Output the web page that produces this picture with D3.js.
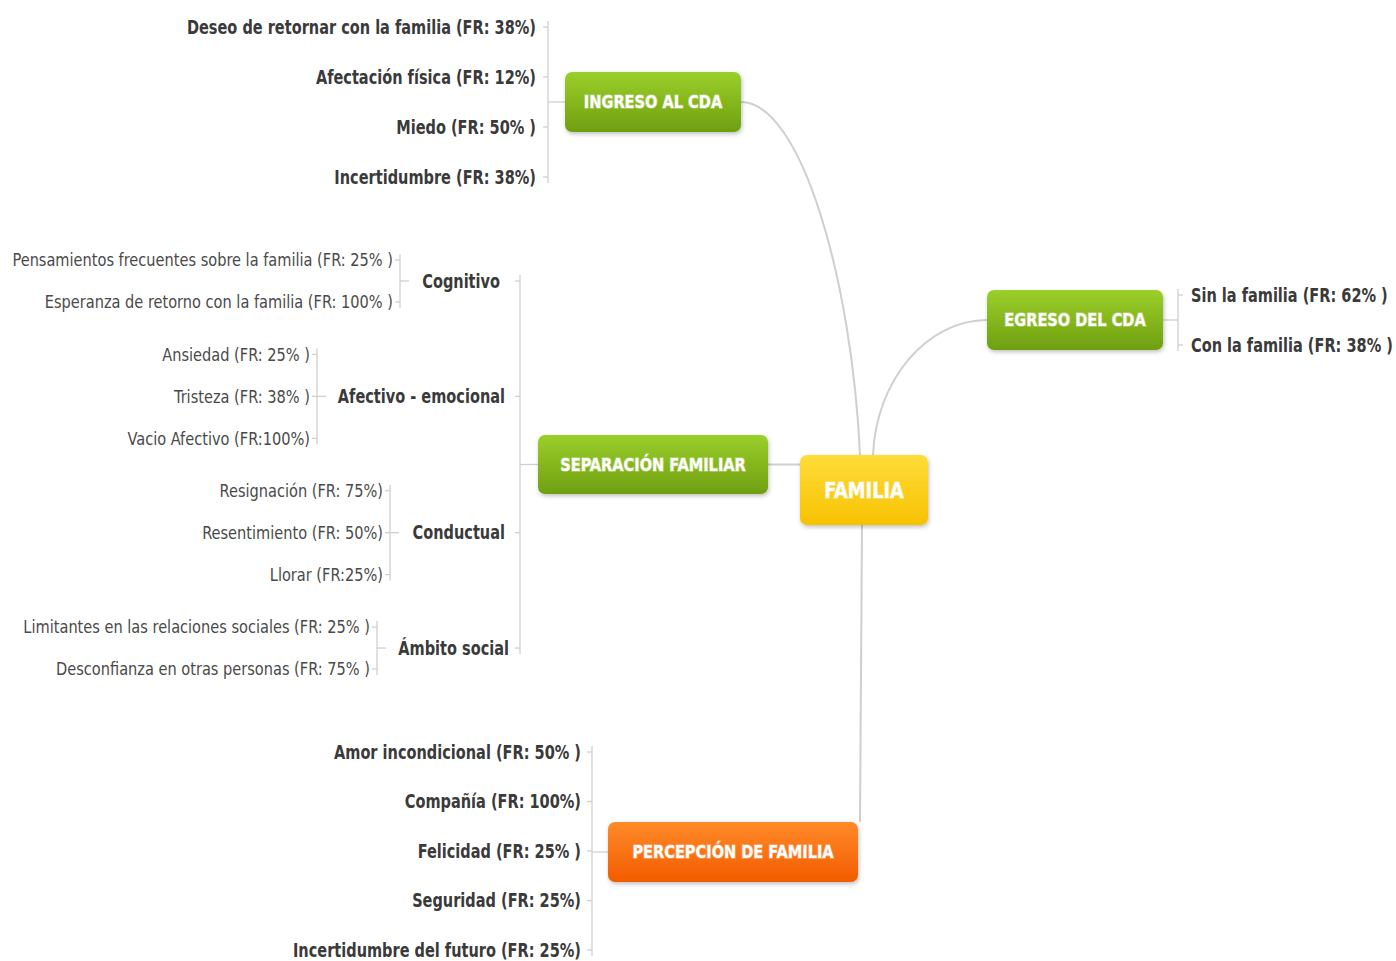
<!DOCTYPE html>
<html>
<head>
<meta charset="utf-8">
<script src="https://cdn.jsdelivr.net/npm/d3@7"></script>
<style>
  body { margin: 0; background: #fff; }
  text { font-family: "DejaVu Sans Condensed", "DejaVu Sans", sans-serif; }
</style>
</head>
<body>
<div id="map"></div>
<script>
// mind map data
var rootLabel = "FAMILIA";
var branchLabels = ["INGRESO AL CDA", "SEPARACIÓN FAMILIAR", "EGRESO DEL CDA", "PERCEPCIÓN DE FAMILIA"];

var ingresoItems = [
  "Deseo de retornar con la familia (FR: 38%)",
  "Afectación física (FR: 12%)",
  "Miedo (FR: 50% )",
  "Incertidumbre (FR: 38%)"
];

var separacionGroups = ["Cognitivo", "Afectivo - emocional", "Conductual", "Ámbito social"];
var cognitivoItems = [
  "Pensamientos frecuentes sobre la familia (FR: 25% )",
  "Esperanza de retorno con la familia (FR: 100% )"
];
var afectivoItems = ["Ansiedad (FR: 25% )", "Tristeza (FR: 38% )", "Vacio Afectivo (FR:100%)"];
var conductualItems = ["Resignación (FR: 75%)", "Resentimiento (FR: 50%)", "Llorar (FR:25%)"];
var socialItems = [
  "Limitantes en las relaciones sociales (FR: 25% )",
  "Desconfianza en otras personas (FR: 75% )"
];

var egresoItems = ["Sin la familia (FR: 62% )", "Con la familia (FR: 38% )"];

var percepcionItems = [
  "Amor incondicional (FR: 50% )",
  "Compañía (FR: 100%)",
  "Felicidad (FR: 25% )",
  "Seguridad (FR: 25%)",
  "Incertidumbre del futuro (FR: 25%)"
];

(function(){
  'use strict';

  var width = 1396, height = 961,
      lineColor = "#cfcfcf",
      textColor = "#3a3a3a",
      boldSx = 0.85,   // the picture uses a narrow face, squeeze the text
      thinSx = 0.9;

  var svg = d3.select("#map").append("svg")
      .attr("width", width)
      .attr("height", height);

  var defs = svg.append("defs");

  var palettes = {
    green:  ["#9bcf2a", "#6f9f10"],
    yellow: ["#ffdc3a", "#f7c200"],
    orange: ["#ff8a2a", "#f25c00"]
  };
  Object.keys(palettes).forEach(function(k){
    var g = defs.append("linearGradient").attr("id", "grad-" + k)
        .attr("x1", 0).attr("y1", 0).attr("x2", 0).attr("y2", 1);
    g.append("stop").attr("offset", "0%").attr("stop-color", palettes[k][0]);
    g.append("stop").attr("offset", "100%").attr("stop-color", palettes[k][1]);
  });

  var shadow = defs.append("filter").attr("id", "shadow")
      .attr("x", "-10%").attr("y", "-20%").attr("width", "130%").attr("height", "160%");
  shadow.append("feDropShadow").attr("dx", 1).attr("dy", 2)
      .attr("stdDeviation", 2).attr("flood-color", "#000").attr("flood-opacity", 0.25);

  // node boxes (layout only, labels come from the arrays above)
  var boxes = {};
  boxes[rootLabel]        = {x: 800, y: 455, w: 128, h: 70, fill: "yellow", size: 22};
  boxes[branchLabels[0]]  = {x: 565, y: 72,  w: 176, h: 60, fill: "green",  size: 18};
  boxes[branchLabels[1]]  = {x: 538, y: 435, w: 230, h: 59, fill: "green",  size: 18};
  boxes[branchLabels[2]]  = {x: 987, y: 290, w: 176, h: 60, fill: "green",  size: 18};
  boxes[branchLabels[3]]  = {x: 608, y: 822, w: 250, h: 60, fill: "orange", size: 18};

  var links = svg.append("g").attr("fill", "none")
      .attr("stroke", lineColor).attr("stroke-width", 2);

  // curved links from the root
  var r = boxes[rootLabel];
  function curve(x0, y0, c1x, c1y, c2x, c2y, x1, y1){
    var p = d3.path();
    p.moveTo(x0, y0);
    p.bezierCurveTo(c1x, c1y, c2x, c2y, x1, y1);
    return p.toString();
  }
  var bI = boxes[branchLabels[0]], bS = boxes[branchLabels[1]],
      bE = boxes[branchLabels[2]], bP = boxes[branchLabels[3]];
  links.append("path").attr("d",
    curve(bI.x + bI.w, bI.y + bI.h / 2, bI.x + bI.w + 60, bI.y + bI.h / 2, r.x + 52, 280, r.x + 60, r.y));
  links.append("path").attr("d",
    curve(bE.x, bE.y + bE.h / 2, bE.x - 60, bE.y + bE.h / 2, r.x + 76, 380, r.x + 73, r.y));
  links.append("path").attr("d",
    curve(bS.x + bS.w, bS.y + bS.h / 2, bS.x + bS.w + 10, bS.y + bS.h / 2, r.x - 10, bS.y + bS.h / 2, r.x, bS.y + bS.h / 2));
  links.append("path").attr("d",
    curve(r.x + 62, r.y + r.h, r.x + 62, r.y + r.h + 100, r.x + 60, bP.y - 100, r.x + 60, bP.y));

  var brackets = svg.append("g").attr("fill", "none")
      .attr("stroke", lineColor).attr("stroke-width", 1.3);

  function bracket(bx, ys, joinY, x0, x1){
    var top = d3.min(ys), bot = d3.max(ys);
    brackets.append("line").attr("x1", bx).attr("x2", bx).attr("y1", top - 6).attr("y2", bot + 6);
    ys.forEach(function(y){
      brackets.append("line").attr("x1", bx - 5).attr("x2", bx).attr("y1", y).attr("y2", y);
    });
    brackets.append("line").attr("x1", x0).attr("x2", x1).attr("y1", joinY).attr("y2", joinY);
  }

  var labels = svg.append("g");

  function leafTexts(items, yScale, x, anchor, weight, size, color, sx){
    labels.append("g").selectAll("g")
      .data(items)
      .enter()
      .append("g")
      .attr("transform", function(d){ return "translate(" + x + "," + yScale(d) + ") scale(" + sx + ",1)"; })
      .append("text")
      .text(function(d){ return d; })
      .attr("dy", "0.35em")
      .attr("text-anchor", anchor)
      .attr("font-weight", weight)
      .attr("font-size", size)
      .style("fill", color);
  }

  // INGRESO AL CDA
  var ingresoY = d3.scalePoint().domain(ingresoItems).range([27, 177]);
  leafTexts(ingresoItems, ingresoY, 536, "end", "bold", 19, textColor, boldSx);
  bracket(548, ingresoItems.map(ingresoY), bI.y + bI.h / 2, 548, bI.x);

  // SEPARACIÓN FAMILIAR: rows with a small gap between groups
  var groupItems = [cognitivoItems, afectivoItems, conductualItems, socialItems];
  var groupGap = 0.25;
  var rowCount = d3.sum(groupItems, function(g){ return g.length; }) - 1 + groupGap * (groupItems.length - 1);
  var rowY = d3.scaleLinear().domain([0, rowCount]).range([260, 669]);
  var leafX = [393, 310, 383, 370];
  var groupY = [];
  var row = 0;
  groupItems.forEach(function(items, gi){
    var idx = {};
    items.forEach(function(d, i){ idx[d] = rowY(row + i); });
    var scale = function(d){ return idx[d]; };
    leafTexts(items, scale, leafX[gi], "end", "normal", 18, "#4a4a4a", thinSx);
    var ys = items.map(scale);
    var mid = d3.mean(ys);
    groupY.push(mid);
    bracket(leafX[gi] + 7, ys, mid, leafX[gi] + 7, leafX[gi] + 16);
    row += items.length + groupGap;
  });
  var groupScale = function(d){ return groupY[separacionGroups.indexOf(d)]; };
  var groupX = [500, 505, 505, 509];
  separacionGroups.forEach(function(g, i){
    labels.append("g")
      .attr("transform", "translate(" + groupX[i] + "," + groupScale(g) + ") scale(" + boldSx + ",1)")
      .append("text").text(g)
      .attr("dy", "0.35em")
      .attr("text-anchor", "end").attr("font-weight", "bold").attr("font-size", 19)
      .style("fill", textColor);
  });
  bracket(520, separacionGroups.map(groupScale), bS.y + bS.h / 2, 520, bS.x);

  // EGRESO DEL CDA
  var egresoY = d3.scalePoint().domain(egresoItems).range([295, 345]);
  leafTexts(egresoItems, egresoY, 1191, "start", "bold", 19, textColor, boldSx);
  brackets.append("line").attr("x1", 1178).attr("x2", 1178).attr("y1", 289).attr("y2", 351);
  egresoItems.forEach(function(d){
    brackets.append("line").attr("x1", 1178).attr("x2", 1183).attr("y1", egresoY(d)).attr("y2", egresoY(d));
  });
  brackets.append("line").attr("x1", bE.x + bE.w).attr("x2", 1178)
    .attr("y1", bE.y + bE.h / 2).attr("y2", bE.y + bE.h / 2);

  // PERCEPCIÓN DE FAMILIA
  var percepcionY = d3.scalePoint().domain(percepcionItems).range([752, 950]);
  leafTexts(percepcionItems, percepcionY, 581, "end", "bold", 19, textColor, boldSx);
  bracket(592, percepcionItems.map(percepcionY), bP.y + bP.h / 2, 592, bP.x);

  // boxes on top of the links
  var nodeData = [rootLabel].concat(branchLabels);
  var nodes = svg.append("g").selectAll(".node")
    .data(nodeData)
    .enter()
    .append("g")
    .attr("class", "node")
    .attr("transform", function(d){ return "translate(" + boxes[d].x + "," + boxes[d].y + ")"; });

  nodes.append("rect")
    .attr("width", function(d){ return boxes[d].w; })
    .attr("height", function(d){ return boxes[d].h; })
    .attr("rx", 7)
    .attr("fill", function(d){ return "url(#grad-" + boxes[d].fill + ")"; })
    .attr("filter", "url(#shadow)");

  nodes.append("g")
    .attr("transform", function(d){ return "translate(" + boxes[d].w / 2 + "," + boxes[d].h / 2 + ") scale(0.9,1)"; })
    .append("text")
    .text(function(d){ return d; })
    .attr("dy", "0.35em")
    .attr("text-anchor", "middle")
    .attr("font-weight", "bold")
    .attr("font-size", function(d){ return boxes[d].size; })
    .style("fill", "#fff")
    .style("paint-order", "stroke")
    .style("stroke", "rgba(255,255,255,0.35)")
    .style("stroke-width", 1.5);
})();
</script>
</body>
</html>
